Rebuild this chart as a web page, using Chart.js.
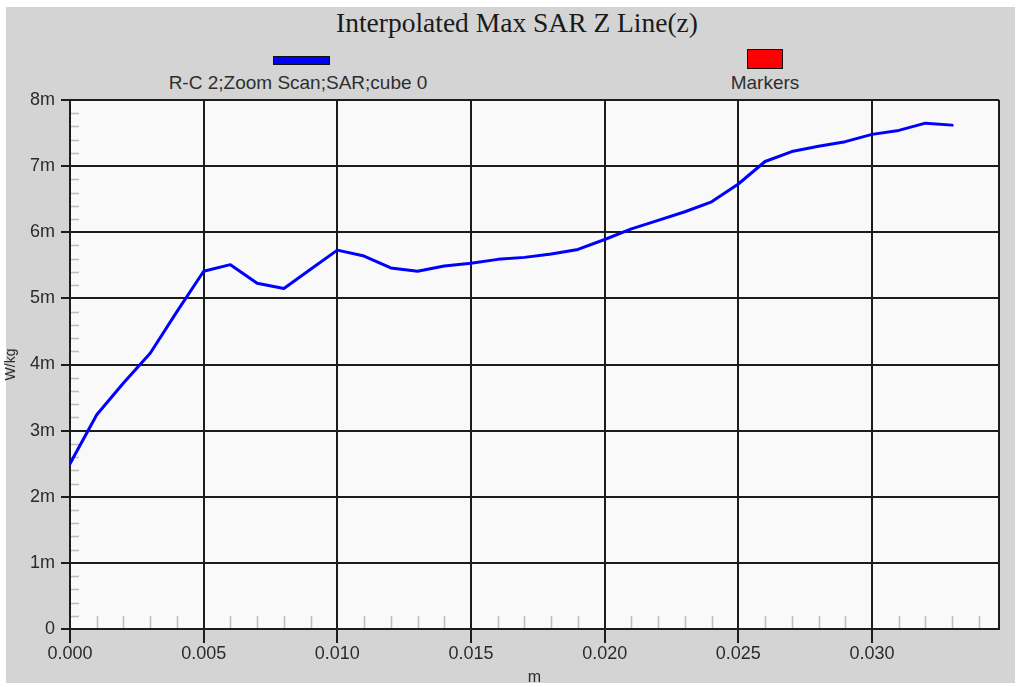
<!DOCTYPE html>
<html>
<head>
<meta charset="utf-8">
<title>Interpolated Max SAR Z Line(z)</title>
<script src="https://cdn.jsdelivr.net/npm/chart.js@4.4.1/dist/chart.umd.min.js"></script>
<style>
  html, body { margin: 0; padding: 0; background: #fff; }
  #wrap { position: relative; width: 1021px; height: 687px; overflow: hidden; }
  #frame { position: absolute; left: 6px; top: 7px; width: 1009px; height: 676px; background: #d4d4d4; }
  #title { position: absolute; left: 0; width: 1034px; top: 9px; text-align: center;
           font: 27.5px/27.5px "Liberation Serif", "DejaVu Serif", serif; color: #1a1a1a; }
  .leg { position: absolute; top: 73px; text-align: center; width: 400px;
         font: 19px/20px "Liberation Sans", Arial, sans-serif; color: #2e2e2e; }
  .swatch { position: absolute; border: 1px solid #111; box-sizing: border-box; }
  canvas { position: absolute; left: 0; top: 0; }
</style>
</head>
<body>
<div id="wrap">
  <div id="frame"></div>
  <div id="title"></div>
  <div class="swatch" id="sw-series" style="left:273px;top:56px;width:57px;height:9px;background:#0000ff"></div>
  <div class="leg" id="lab-series" style="left:98px"></div>
  <div class="swatch" id="sw-markers" style="left:747px;top:49px;width:36px;height:20px;background:#ff0000"></div>
  <div class="leg" id="lab-markers" style="left:565px"></div>
  <canvas id="c" width="1021" height="687"></canvas>
</div>
<script>
// --- data (z in m, SAR in W/kg) ---
const chartTitle = 'Interpolated Max SAR Z Line(z)';
const seriesName = 'R-C 2;Zoom Scan;SAR;cube 0';
const markersName = 'Markers';
const xTitle = 'm';
const yTitle = 'W/kg';

const zPos = [0.000, 0.001, 0.002, 0.003, 0.004, 0.005, 0.006, 0.007, 0.008, 0.009,
              0.010, 0.011, 0.012, 0.013, 0.014, 0.015, 0.016, 0.017, 0.018, 0.019,
              0.020, 0.021, 0.022, 0.023, 0.024, 0.025, 0.026, 0.027, 0.028, 0.029,
              0.030, 0.031, 0.032, 0.033];
const sarVals = [0.00250, 0.00324, 0.00372, 0.00417, 0.00480, 0.00541, 0.00551, 0.00523, 0.00515, 0.00544,
                 0.00573, 0.00564, 0.00546, 0.00541, 0.00549, 0.00553, 0.00559, 0.00562, 0.00567, 0.00574,
                 0.00589, 0.00605, 0.00618, 0.00631, 0.00646, 0.00673, 0.00707, 0.00722, 0.00730, 0.00737,
                 0.00748, 0.00754, 0.00765, 0.00762];

const xMin = 0, xMax = 0.03475, xStep = 0.005, xMinorStep = 0.001;
const yMin = 0, yMax = 0.008, yStep = 0.001, yMinorStep = 0.0002;

document.getElementById('title').textContent = chartTitle;
document.getElementById('lab-series').textContent = seriesName;
document.getElementById('lab-markers').textContent = markersName;

const INK = '#2b2b2b';
const GRID = '#1c1c1c';
const tickFont = { family: '"Liberation Sans", Arial, sans-serif', size: 18 };

// plot background, right edge and the small grey minor ticks
const plotDecor = {
  id: 'plotDecor',
  beforeDraw(chart) {
    const { ctx, chartArea: a } = chart;
    ctx.save();
    ctx.fillStyle = '#f9f9f9';
    ctx.fillRect(a.left, a.top, a.right - a.left, a.bottom - a.top);
    ctx.restore();
  },
  beforeDatasetsDraw(chart) {
    const { ctx, chartArea: a, scales } = chart;
    ctx.save();
    ctx.strokeStyle = '#bdbdbd';
    ctx.lineWidth = 1.5;
    ctx.beginPath();
    for (let i = 1; xMin + i * xMinorStep < xMax; i++) {
      if (i % 5 === 0) continue;
      const px = Math.round(scales.x.getPixelForValue(xMin + i * xMinorStep)) + 0.5;
      ctx.moveTo(px, a.bottom - 1);
      ctx.lineTo(px, a.bottom - 13);
    }
    for (let i = 1; yMin + i * yMinorStep < yMax - 1e-9; i++) {
      if (i % 5 === 0) continue;
      const py = Math.round(scales.y.getPixelForValue(yMin + i * yMinorStep)) + 0.5;
      ctx.moveTo(a.left + 1, py);
      ctx.lineTo(a.left + 9, py);
    }
    ctx.stroke();
    ctx.strokeStyle = GRID;
    ctx.lineWidth = 2;
    ctx.beginPath();
    ctx.moveTo(a.right, a.top);
    ctx.lineTo(a.right, a.bottom);
    ctx.stroke();
    ctx.restore();
  }
};

new Chart(document.getElementById('c'), {
  type: 'line',
  data: {
    datasets: [{
      label: seriesName,
      data: zPos.map((z, i) => ({ x: z, y: sarVals[i] })),
      borderColor: '#0000ff',
      borderWidth: 3,
      borderJoinStyle: 'round',
      borderCapStyle: 'round',
      pointRadius: 0,
      tension: 0,
      fill: false
    }]
  },
  options: {
    responsive: false,
    animation: false,
    events: [],
    layout: { padding: { left: 0, right: 22, top: 100, bottom: 0 } },
    plugins: { legend: { display: false }, tooltip: { enabled: false }, title: { display: false } },
    scales: {
      x: {
        type: 'linear',
        min: xMin, max: xMax,
        afterFit: s => { s.height = 58; },
        afterBuildTicks: s => { s.ticks = s.ticks.filter(t => t.value <= 0.0301); },
        ticks: {
          stepSize: xStep, includeBounds: false, maxRotation: 0, autoSkip: false,
          color: INK, font: tickFont, padding: 0,
          callback: v => v.toFixed(3)
        },
        grid: { color: GRID, lineWidth: 2, tickLength: 14, drawTicks: true },
        border: { color: GRID, width: 2 },
        title: { display: true, text: xTitle, color: INK, font: { family: tickFont.family, size: 16 }, padding: { top: 0, bottom: 0 } }
      },
      y: {
        type: 'linear',
        min: yMin, max: yMax,
        afterFit: s => { s.width = 70; },
        ticks: {
          stepSize: yStep, color: INK, font: tickFont, padding: 6,
          callback: v => (Math.abs(v) < 1e-12 ? '0' : Math.round(v * 1000) + 'm')
        },
        grid: { color: GRID, lineWidth: 2, tickLength: 9 },
        border: { color: GRID, width: 2 },
        title: { display: true, text: yTitle, color: INK, font: { family: tickFont.family, size: 14 }, padding: { top: 3, bottom: 0 } }
      }
    }
  },
  plugins: [plotDecor]
});
</script>
</body>
</html>
